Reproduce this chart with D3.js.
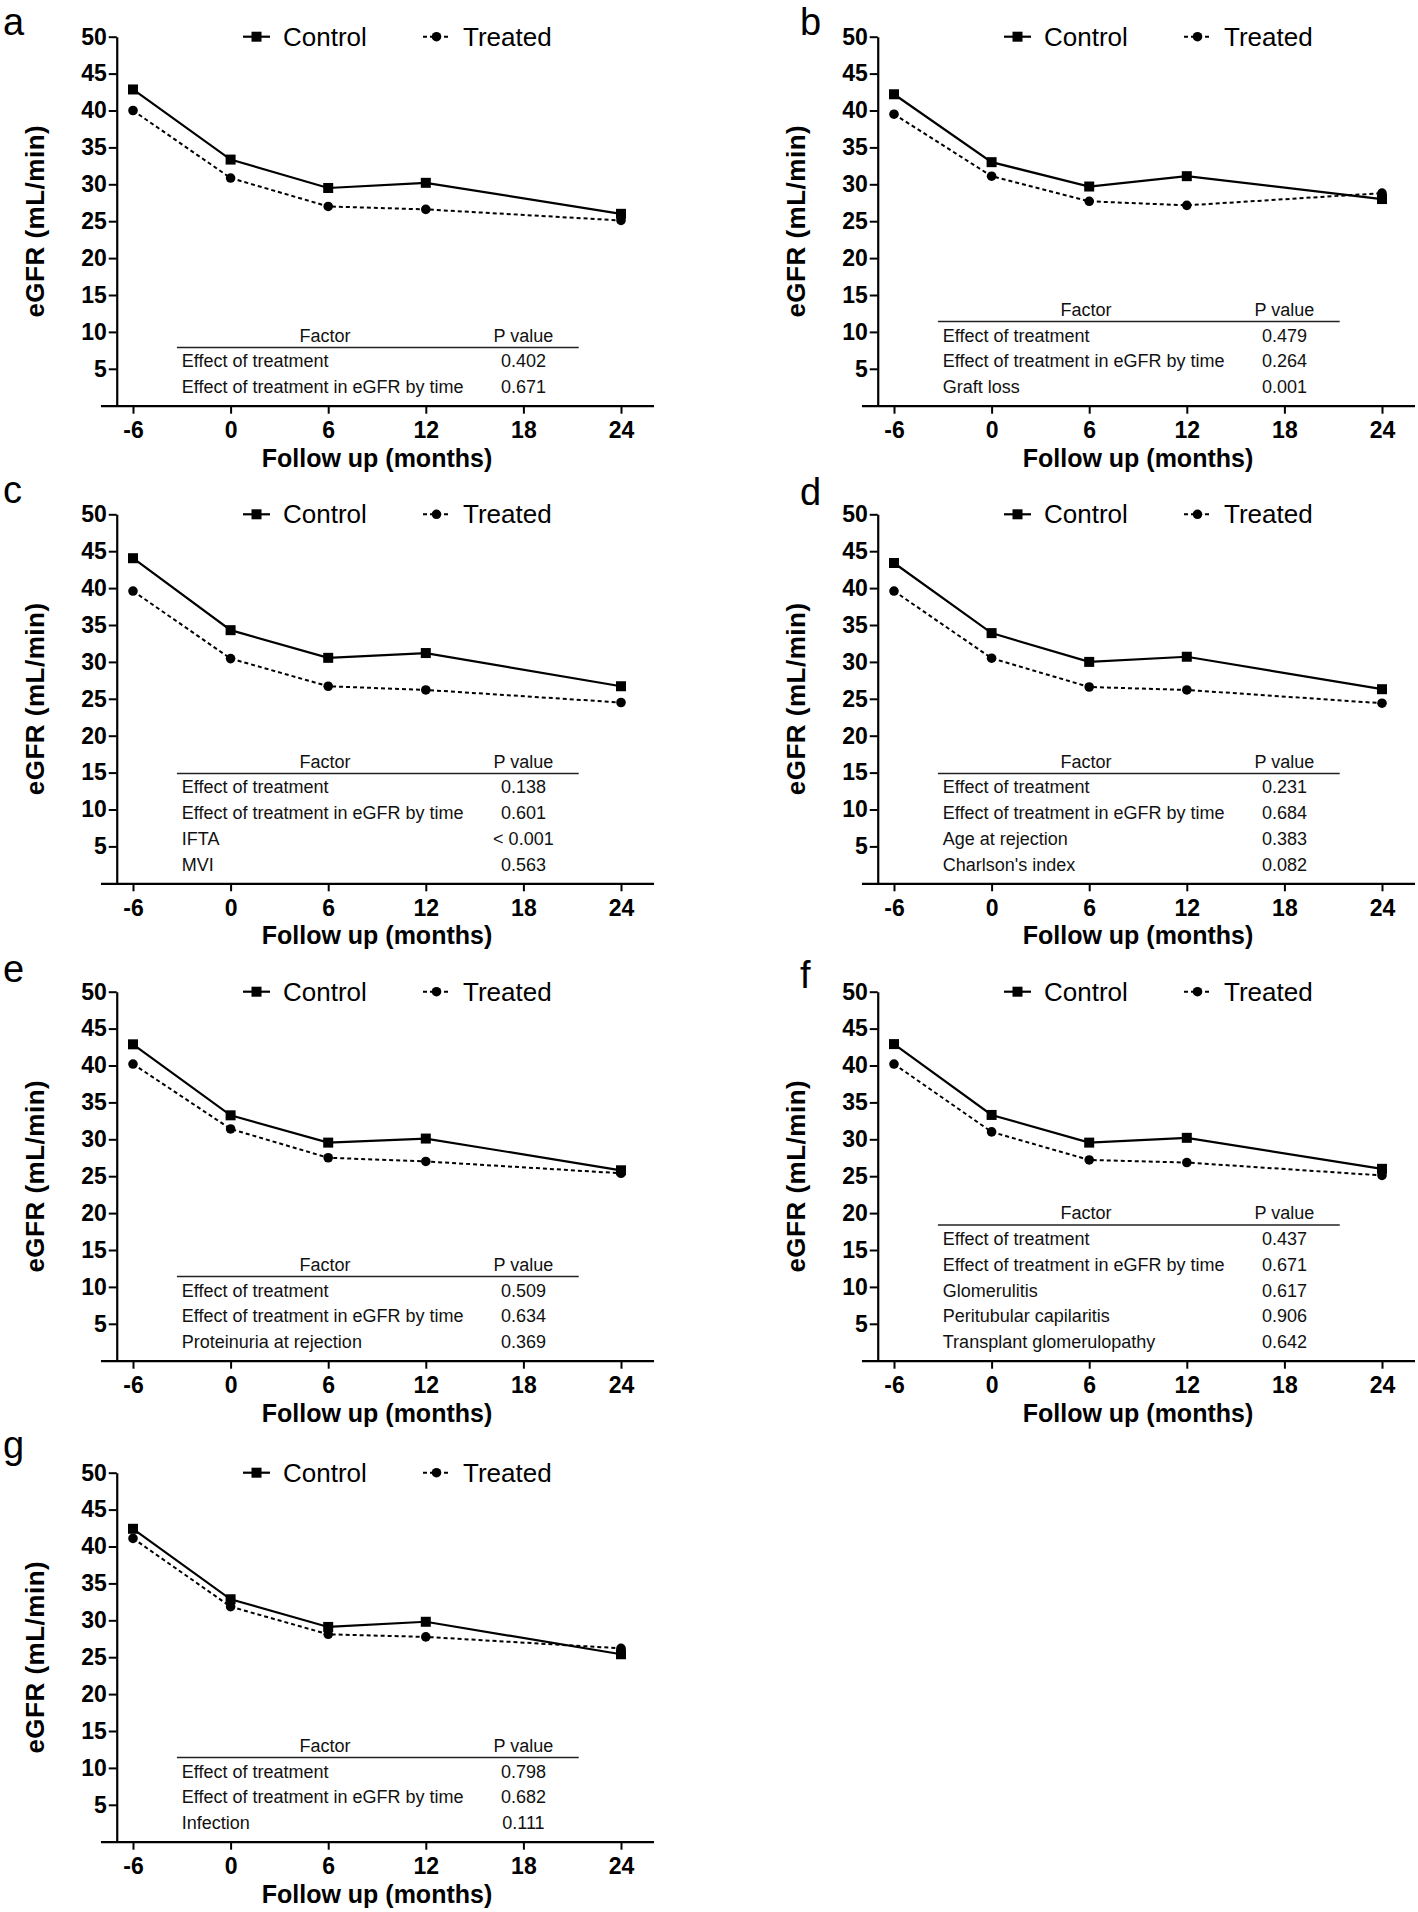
<!DOCTYPE html>
<html><head><meta charset="utf-8">
<script src="https://cdn.jsdelivr.net/npm/d3@7"></script>
<style>body{margin:0;background:#fff}svg{display:block}</style>
</head><body>
<svg id="chart" width="1418" height="1912"></svg>
<script>
// ---------- data ----------
const months = [-6, 0, 6, 12, 24];
const xTicks = [-6, 0, 6, 12, 18, 24];
const yTicks = [5, 10, 15, 20, 25, 30, 35, 40, 45, 50];
const panelLetters = ["a", "b", "c", "d", "e", "f", "g"];
const seriesNames = ["Control", "Treated"];
const xTitle = "Follow up (months)";
const yTitle = "eGFR (mL/min)";
const tableHeader = ["Factor", "P value"];

const controlA = [42.85, 33.35, 29.5, 30.2, 26.0];
const treatedA = [40.0, 30.85, 27.0, 26.6, 25.1];
const controlB = [42.2, 33.0, 29.7, 31.1, 28.0];
const treatedB = [39.5, 31.1, 27.7, 27.15, 28.8];
const controlC = [44.05, 34.3, 30.55, 31.2, 26.7];
const treatedC = [39.6, 30.45, 26.7, 26.2, 24.5];
const controlD = [43.4, 33.9, 30.0, 30.7, 26.3];
const treatedD = [39.6, 30.5, 26.6, 26.2, 24.4];
const controlE = [42.87, 33.25, 29.55, 30.1, 25.8];
const treatedE = [40.2, 31.4, 27.5, 27.0, 25.4];
const controlF = [42.9, 33.3, 29.55, 30.2, 26.0];
const treatedF = [40.2, 31.0, 27.2, 26.85, 25.1];
const controlG = [42.4, 32.85, 29.1, 29.8, 25.4];
const treatedG = [41.1, 31.85, 28.1, 27.75, 26.2];

const factorsA = ["Effect of treatment", "Effect of treatment in eGFR by time"];
const pValuesA = ["0.402", "0.671"];
const factorsB = ["Effect of treatment", "Effect of treatment in eGFR by time", "Graft loss"];
const pValuesB = ["0.479", "0.264", "0.001"];
const factorsC = ["Effect of treatment", "Effect of treatment in eGFR by time", "IFTA", "MVI"];
const pValuesC = ["0.138", "0.601", "< 0.001", "0.563"];
const factorsD = ["Effect of treatment", "Effect of treatment in eGFR by time", "Age at rejection", "Charlson's index"];
const pValuesD = ["0.231", "0.684", "0.383", "0.082"];
const factorsE = ["Effect of treatment", "Effect of treatment in eGFR by time", "Proteinuria at rejection"];
const pValuesE = ["0.509", "0.634", "0.369"];
const factorsF = ["Effect of treatment", "Effect of treatment in eGFR by time", "Glomerulitis", "Peritubular capilaritis", "Transplant glomerulopathy"];
const pValuesF = ["0.437", "0.671", "0.617", "0.906", "0.642"];
const factorsG = ["Effect of treatment", "Effect of treatment in eGFR by time", "Infection"];
const pValuesG = ["0.798", "0.682", "0.111"];

const panels = [
  {letter: panelLetters[0], control: controlA, treated: treatedA, factors: factorsA, pvals: pValuesA},
  {letter: panelLetters[1], control: controlB, treated: treatedB, factors: factorsB, pvals: pValuesB},
  {letter: panelLetters[2], control: controlC, treated: treatedC, factors: factorsC, pvals: pValuesC},
  {letter: panelLetters[3], control: controlD, treated: treatedD, factors: factorsD, pvals: pValuesD},
  {letter: panelLetters[4], control: controlE, treated: treatedE, factors: factorsE, pvals: pValuesE},
  {letter: panelLetters[5], control: controlF, treated: treatedF, factors: factorsF, pvals: pValuesF},
  {letter: panelLetters[6], control: controlG, treated: treatedG, factors: factorsG, pvals: pValuesG}
];

// ---------- layout ----------
const colX0 = [133, 894];       // pixel of month -6
const colX1 = [621, 1382];      // pixel of month 24
const rowTop = [36.7, 514.3, 991.7, 1472.7]; // pixel of eGFR 50
const plotH = 369;
const letterX = [3, 800];
const letterDy = [-2, -2, -11, -9, -10, -4, -15];
const FONT = "'Liberation Sans', Arial, Helvetica, sans-serif";

const svg = d3.select("#chart");

panels.forEach((p, i) => {
  const col = i % 2, row = Math.floor(i / 2);
  const top = rowTop[row];
  const pxm = (colX1[col] - colX0[col]) / 30;
  const x = d3.scaleLinear().domain([-8, 26]).range([colX0[col] - 2 * pxm, colX1[col] + 2 * pxm]);
  const y = d3.scaleLinear().domain([0, 50]).range([top + plotH, top]);
  const g = svg.append("g").attr("font-family", FONT);

  // panel letter
  g.append("text").attr("x", letterX[col]).attr("y", top + letterDy[i])
    .attr("font-size", 38).attr("fill", "#000").text(p.letter);

  // y axis
  const ya = g.append("g").attr("transform", `translate(${x(-7)},0)`)
    .call(d3.axisLeft(y).tickValues(yTicks).tickSize(8).tickSizeOuter(0).tickPadding(2)
      .tickFormat(d => String(d)));
  ya.select(".domain").attr("stroke", "#000").attr("stroke-width", 2.2);
  ya.selectAll(".tick line").attr("stroke", "#000").attr("stroke-width", 2);
  ya.selectAll(".tick text").attr("font-family", FONT).attr("font-size", 23)
    .attr("font-weight", "bold").attr("fill", "#000");

  // x axis
  const xa = g.append("g").attr("transform", `translate(0,${y(0)})`)
    .call(d3.axisBottom(x).tickValues(xTicks).tickSize(8).tickSizeOuter(0).tickPadding(8)
      .tickFormat(d => String(d)));
  xa.select(".domain").attr("stroke", "#000").attr("stroke-width", 2.2);
  xa.selectAll(".tick line").attr("stroke", "#000").attr("stroke-width", 2);
  xa.selectAll(".tick text").attr("font-family", FONT).attr("font-size", 23)
    .attr("font-weight", "bold").attr("fill", "#000");

  // axis titles
  g.append("text").attr("x", x(9)).attr("y", y(0) + 61).attr("text-anchor", "middle")
    .attr("font-size", 25).attr("font-weight", "bold").text(xTitle);
  g.append("text").attr("transform", `translate(${x(-6) - 99 + 9.5},${y(25)}) rotate(-90)`)
    .attr("text-anchor", "middle").attr("font-size", 26).attr("letter-spacing", 0.5)
    .attr("font-weight", "bold").text(yTitle);

  // lines
  const line = d3.line().x(d => x(d[0])).y(d => y(d[1]));
  const cData = months.map((m, k) => [m, p.control[k]]);
  const tData = months.map((m, k) => [m, p.treated[k]]);
  g.append("path").datum(tData).attr("d", line).attr("fill", "none")
    .attr("stroke", "#000").attr("stroke-width", 2).attr("stroke-dasharray", "4,3");
  g.append("path").datum(cData).attr("d", line).attr("fill", "none")
    .attr("stroke", "#000").attr("stroke-width", 2.2);
  g.selectAll(null).data(tData).enter().append("circle")
    .attr("cx", d => x(d[0])).attr("cy", d => y(d[1])).attr("r", 4.8).attr("fill", "#000");
  g.selectAll(null).data(cData).enter().append("rect")
    .attr("x", d => x(d[0]) - 5).attr("y", d => y(d[1]) - 5)
    .attr("width", 10).attr("height", 10).attr("fill", "#000");

  // legend
  const lx = x(-6), ly = y(50);
  g.append("line").attr("x1", lx + 110).attr("x2", lx + 137).attr("y1", ly).attr("y2", ly)
    .attr("stroke", "#000").attr("stroke-width", 2.2);
  g.append("rect").attr("x", lx + 123.5 - 5).attr("y", ly - 5).attr("width", 10).attr("height", 10).attr("fill", "#000");
  g.append("text").attr("x", lx + 150).attr("y", ly + 9).attr("font-size", 26).text(seriesNames[0]);
  g.append("line").attr("x1", lx + 290).attr("x2", lx + 317).attr("y1", ly).attr("y2", ly)
    .attr("stroke", "#000").attr("stroke-width", 2).attr("stroke-dasharray", "4,3");
  g.append("circle").attr("cx", lx + 303.5).attr("cy", ly).attr("r", 4.8).attr("fill", "#000");
  g.append("text").attr("x", lx + 330).attr("y", ly + 9).attr("font-size", 26).text(seriesNames[1]);

  // table
  const n = p.factors.length;
  const rowSp = 25.8;
  const lastRow = top + 350;
  const firstRow = lastRow - (n - 1) * rowSp;
  const ruleY = firstRow - 13.5;
  const headY = ruleY - 12.3;
  const tg = g.append("g").attr("font-size", 18).attr("fill", "#111");
  tg.append("text").attr("x", x(5.8)).attr("y", headY + 6.5).attr("text-anchor", "middle").text(tableHeader[0]);
  tg.append("text").attr("x", x(18)).attr("y", headY + 6.5).attr("text-anchor", "middle").text(tableHeader[1]);
  tg.append("line").attr("x1", x(-3.3)).attr("x2", x(21.4)).attr("y1", ruleY).attr("y2", ruleY)
    .attr("stroke", "#222").attr("stroke-width", 1.5);
  p.factors.forEach((f, k) => {
    const ry = firstRow + k * rowSp + 6.5;
    tg.append("text").attr("x", x(-3.0)).attr("y", ry).text(f);
    tg.append("text").attr("x", x(18)).attr("y", ry).attr("text-anchor", "middle").text(p.pvals[k]);
  });
});
</script>
</body></html>
